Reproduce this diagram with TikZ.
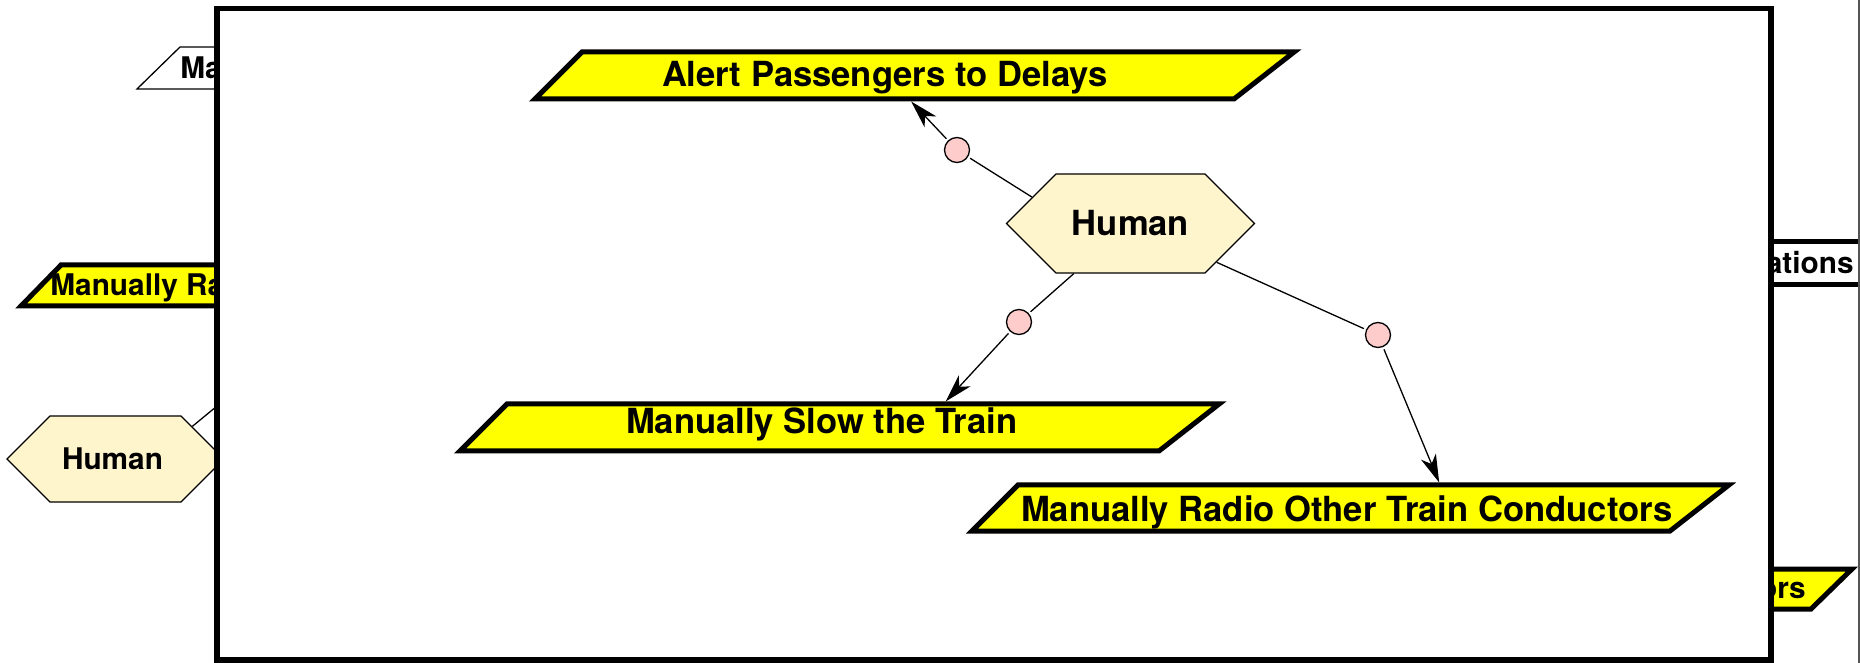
\documentclass[tikz,border=0pt]{standalone}
\usepackage{fontspec}
\setmainfont{TeX Gyre Heros}
\usetikzlibrary{arrows.meta,shapes.geometric,shapes.symbols}
\definecolor{parayellow}{HTML}{FFFF00}
\definecolor{hexcream}{HTML}{FFF5CC}
\definecolor{dotpink}{HTML}{FFCCCC}
\definecolor{edgegray}{HTML}{555555}
\newcommand\dgmain{\fontsize{17.3pt}{20pt}\selectfont\bfseries}
\newcommand\dgback{\fontsize{14.9pt}{18pt}\selectfont\bfseries}
\begin{document}
\begin{tikzpicture}[x=0.5pt,y=-0.5pt,
  paranode/.style={trapezium, trapezium left angle=45, trapezium right angle=142,
    draw, line width=2.5pt, fill=parayellow, inner xsep=0pt, inner ysep=0pt, font=\dgmain},
  hexnode/.style={signal, signal to=west and east, signal pointer angle=90,
    draw, line width=0.65pt, fill=hexcream, inner sep=0pt},
  dotnode/.style={circle, draw, line width=0.65pt, fill=dotpink, minimum size=12.5pt,
    inner sep=0pt, outer sep=1.5pt},
  connline/.style={line width=0.65pt},
  arrline/.style={connline, -{Stealth[length=14pt,width=8pt,inset=4pt]}},
  thickshape/.style={draw, line width=2.5pt},
  thinshape/.style={draw, line width=0.65pt},
  bgtext/.style={inner sep=0pt, font=\dgback},
  framebox/.style={draw, line width=2.75pt, fill=white}
]
\useasboundingbox (0,0) rectangle (1860,663);
\clip (0,0) rectangle (1860,663);

% ---- background (partly hidden) diagram ----
\draw[thinshape, fill=white] (137,89) -- (180,47) -- (330,47) -- (330,89) -- cycle;
\node[bgtext, anchor=base west] (ma) at (180,79) {Ma};

\draw[thickshape, fill=parayellow] (21,306) -- (61,265) -- (330,265) -- (330,306) -- cycle;
\node[bgtext, anchor=base west] (mr) at (50,296) {Manually Ra};

\node[hexnode, font=\dgback, text height=27pt, text depth=16pt] (hb) at (115.5,459)
  {\makebox[65.5pt]{\hspace*{-1.5pt}Human\hspace*{1.5pt}}};
\coordinate (hbout) at (302,336);
\draw[connline] (hb.23) -- (hbout);

\draw[thickshape, fill=white] (1700,242) rectangle (1920,285);
\node[bgtext, anchor=base east] (ops) at (1854,274) {ations};

\draw[thickshape, fill=parayellow] (1700,569) -- (1852,569) -- (1811,609) -- (1700,609) -- cycle;
\node[bgtext, anchor=base east] (cond) at (1806,598) {ors};

\draw[line width=1pt, edgegray] (1859,-10) -- (1859,673);

% ---- frame ----
\draw[framebox] (217,8.5) rectangle (1771,660);

% ---- main diagram ----
\node[paranode, text height=17.5pt, text depth=6pt] (alert) at (908,75.5)
  {\makebox[326pt][l]{\hspace*{40pt}Alert Passengers to Delays}};
\node[paranode, text height=15pt, text depth=8.5pt] (slow) at (833,427.5)
  {\makebox[326pt][l]{\hspace*{59.5pt}Manually Slow the Train}};
\node[paranode, text height=18.5pt, text depth=4.5pt] (radio) at (1344,508)
  {\makebox[326pt][l]{\hspace*{1.5pt}Manually Radio Other Train Conductors}};

\node[hexnode, font=\dgmain, text height=31pt, text depth=18.5pt] (human) at (1130.5,223.5)
  {\makebox[74.5pt]{Human}};

\node[dotnode] (c1) at (957,150) {};
\node[dotnode] (c2) at (1019,322) {};
\node[dotnode] (c3) at (1378,335) {};

\draw[connline] (human.165) -- (c1);
\draw[arrline] (c1) -- (alert.277);
\draw[connline] (human) -- (c2);
\draw[arrline] (c2) -- (slow.13);
\draw[connline] (human) -- (c3);
\draw[arrline] (c3) -- (radio.15);
\end{tikzpicture}
\end{document}
